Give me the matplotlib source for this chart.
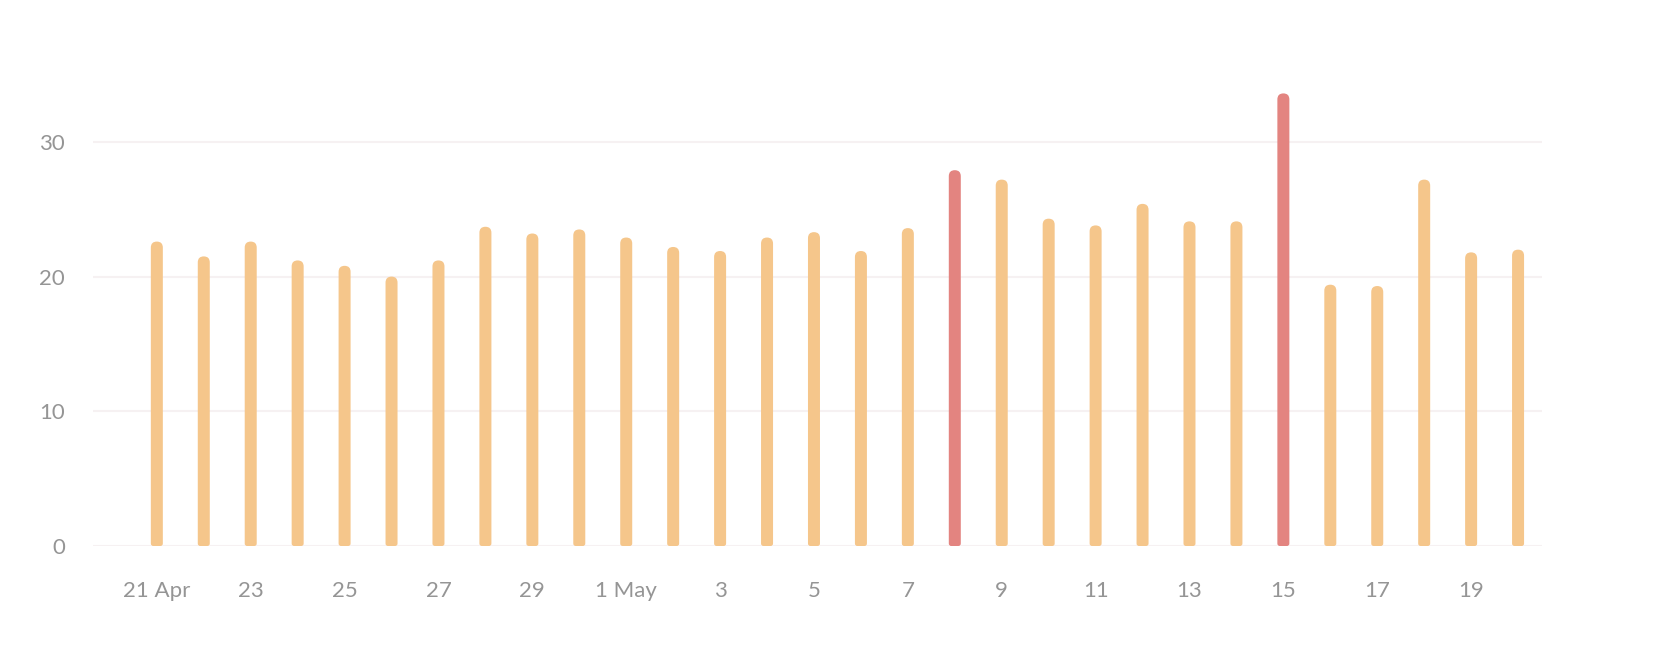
import matplotlib
matplotlib.use("Agg")
import matplotlib.pyplot as plt
from matplotlib.path import Path
from matplotlib.patches import PathPatch

plt.rcParams['font.family'] = ['Lato', 'DejaVu Sans']

# daily values, 21 Apr .. 20 May
days = list(range(30))
values = [22.6, 21.5, 22.6, 21.2, 20.8, 20.0, 21.2, 23.7, 23.2, 23.5,
          22.9, 22.2, 21.9, 22.9, 23.3, 21.9, 23.6, 27.9, 27.2, 24.3,
          23.8, 25.4, 24.1, 24.1, 33.6, 19.4, 19.3, 27.2, 21.8, 22.0]
highlight = [17, 24]  # 8 May, 15 May
tick_idx = list(range(0, 30, 2))
tick_labels = ['21 Apr', '23', '25', '27', '29', '1 May', '3', '5', '7',
               '9', '11', '13', '15', '17', '19']
yticks = [0, 10, 20, 30]

orange = '#f5c68b'
red = '#e38480'
W, H = 1664, 660

fig = plt.figure(figsize=(W / 100, H / 100), dpi=100)
ax_l, ax_r = 93 / W, 1542 / W
y0_px, per_unit = 546, 13.47
ymax = 38
ax = fig.add_axes([ax_l, 1 - y0_px / H, ax_r - ax_l, ymax * per_unit / H])

xlim = (-1.36, 29.51)
ax.set_xlim(*xlim)
ax.set_ylim(0, ymax)

# pixel sizes -> data units
px_x = (xlim[1] - xlim[0]) / (1542 - 93)
px_y = 1 / per_unit


def rounded_bar(x, h, w_px=12, top_px=6, bot_px=2.5):
    hw = w_px / 2 * px_x
    tx, ty = top_px * px_x, top_px * px_y
    bx, by = bot_px * px_x, bot_px * px_y
    l, r = x - hw, x + hw
    verts = [(l + bx, 0), (r - bx, 0), (r, 0), (r, by),
             (r, h - ty), (r, h), (r - tx, h),
             (l + tx, h), (l, h), (l, h - ty),
             (l, by), (l, 0), (l + bx, 0), (l + bx, 0)]
    codes = [Path.MOVETO, Path.LINETO, Path.CURVE3, Path.CURVE3,
             Path.LINETO, Path.CURVE3, Path.CURVE3,
             Path.LINETO, Path.CURVE3, Path.CURVE3,
             Path.LINETO, Path.CURVE3, Path.CURVE3, Path.CLOSEPOLY]
    return Path(verts, codes)


for d, v in zip(days, values):
    c = red if d in highlight else orange
    ax.add_patch(PathPatch(rounded_bar(d, v), fc=c, ec='none', zorder=3))

ax.set_yticks(yticks)
ax.set_yticklabels([str(t) for t in yticks])
ax.set_xticks(tick_idx)
ax.set_xticklabels(tick_labels)
ax.grid(axis='y', color='#f6f1f2', linewidth=1.5, zorder=0)
ax.tick_params(axis='both', length=0, labelsize=16, colors='#959595')
ax.tick_params(axis='y', pad=20)
ax.tick_params(axis='x', pad=25)
for s in ax.spines.values():
    s.set_visible(False)

fig.savefig('out.png', dpi=100, facecolor='white')
